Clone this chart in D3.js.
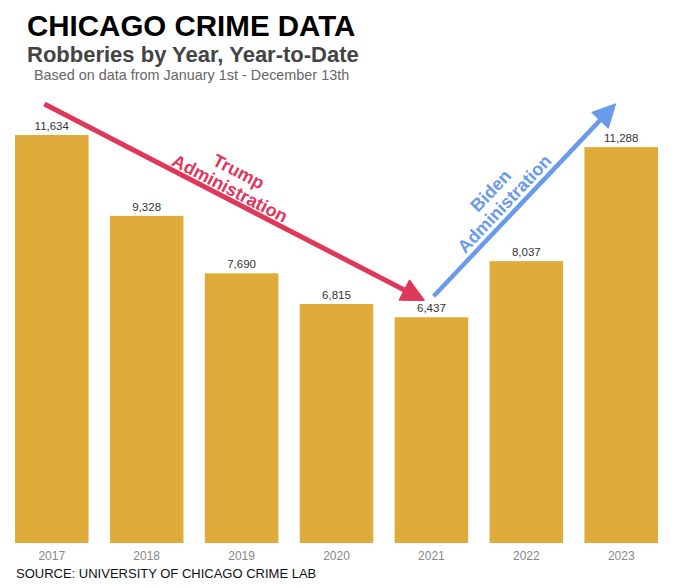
<!DOCTYPE html>
<html>
<head>
<meta charset="utf-8">
<script src="https://cdn.jsdelivr.net/npm/d3@7/dist/d3.min.js"></script>
<style>
  html, body { margin: 0; padding: 0; background: #fff; }
  svg { display: block; font-family: "Liberation Sans", Arial, sans-serif; }
</style>
</head>
<body>
<svg id="chart" width="680" height="588"></svg>
<script>
const years = ["2017", "2018", "2019", "2020", "2021", "2022", "2023"];
const robberies = [11634, 9328, 7690, 6815, 6437, 8037, 11288];

const title = "CHICAGO CRIME DATA";
const subtitle = "Robberies by Year, Year-to-Date";
const note = "Based on data from January 1st - December 13th";
const source = "SOURCE: UNIVERSITY OF CHICAGO CRIME LAB";

const W = 680, H = 588;
const svg = d3.select("#chart");

const x = d3.scaleBand().domain(years).range([5.5, 667.5]).paddingInner(0.225).paddingOuter(0.1);
const y = d3.scaleLinear().domain([0, 11634]).range([543, 135]);

const barColor = "#DFAB3B";
const red = "#E0385B";
const blue = "#6A9BEA";

// titles
svg.append("text").attr("x", 27).attr("y", 35.5).attr("font-size", 29.5).attr("font-weight", "bold")
  .attr("fill", "#000").text(title);
svg.append("text").attr("x", 27).attr("y", 62).attr("font-size", 22).attr("font-weight", "bold")
  .attr("fill", "#444").text(subtitle);
svg.append("text").attr("x", 34).attr("y", 80).attr("font-size", 14.4)
  .attr("fill", "#666").text(note);

// bars
svg.append("g").selectAll("rect").data(years).join("rect")
  .attr("x", d => x(d)).attr("width", x.bandwidth())
  .attr("y", (d, i) => y(robberies[i])).attr("height", (d, i) => y(0) - y(robberies[i]))
  .attr("fill", barColor);

// value labels
svg.append("g").selectAll("text").data(years).join("text")
  .attr("x", d => x(d) + x.bandwidth() / 2).attr("y", (d, i) => y(robberies[i]) - 5)
  .attr("text-anchor", "middle").attr("font-size", 11.5).attr("fill", "#333")
  .text((d, i) => d3.format(",")(robberies[i]));

// x axis labels
const xAxis = d3.axisBottom(x).tickSize(0).tickPadding(8);
const gx = svg.append("g").attr("transform", `translate(0,${y(0)})`).call(xAxis);
gx.select(".domain").remove();
gx.selectAll("text").attr("font-size", 12).attr("fill", "#888").attr("font-family", "Liberation Sans, Arial, sans-serif");

// source
svg.append("text").attr("x", 16).attr("y", 578).attr("font-size", 13)
  .attr("fill", "#111").text(source);

// arrows
function arrow(x1, y1, x2, y2, color, lw, headLen, headW) {
  const ang = Math.atan2(y2 - y1, x2 - x1);
  const ux = Math.cos(ang), uy = Math.sin(ang);
  const bx = x2 - ux * headLen, by = y2 - uy * headLen;
  svg.append("line").attr("x1", x1).attr("y1", y1).attr("x2", bx + ux * 2).attr("y2", by + uy * 2)
    .attr("stroke", color).attr("stroke-width", lw);
  const px = -uy, py = ux;
  svg.append("path")
    .attr("d", `M${x2},${y2} L${bx + px * headW / 2},${by + py * headW / 2} L${bx - px * headW / 2},${by - py * headW / 2} Z`)
    .attr("fill", color).attr("stroke", color).attr("stroke-width", 1.5).attr("stroke-linejoin", "round");
  return ang * 180 / Math.PI;
}

const bw = x.bandwidth();
const rx1 = x("2017") + bw * 0.4, ry1 = y(robberies[0]) - 31;
const rx2 = x("2021") + bw * 0.4, ry2 = y(robberies[4]) - 17;
const redAng = arrow(rx1, ry1, rx2, ry2, red, 5, 22, 22);

const bx1 = x("2021") + bw * 0.53, by1 = y(robberies[4]) - 21;
const bx2 = x("2023") + bw * 0.42, by2 = y(robberies[6]) - 43;
const blueAng = arrow(bx1, by1, bx2, by2, blue, 4.5, 22, 22);

function label(cx, cy, ang, lines, color) {
  const g = svg.append("g").attr("transform", `translate(${cx},${cy}) rotate(${ang})`);
  lines.forEach((t, i) => {
    g.append("text").attr("x", 0).attr("y", (i - lines.length + 1) * 19)
      .attr("text-anchor", "middle").attr("font-size", 18).attr("font-weight", "bold")
      .attr("fill", color).text(t);
  });
}
label(227, 194, redAng, ["Trump", "Administration"], red);
label(509, 208, blueAng, ["Biden", "Administration"], blue);
</script>
</body>
</html>
